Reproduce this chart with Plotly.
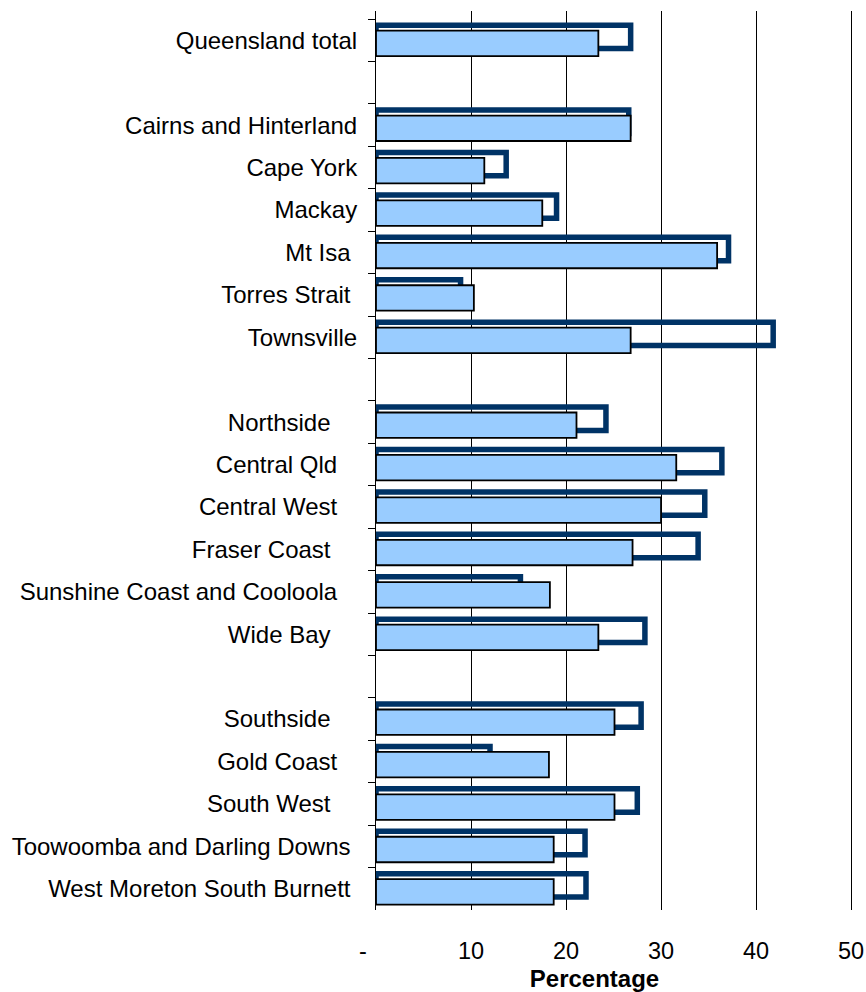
import plotly.graph_objects as go

# Category labels (trailing spaces are part of the original labels); "" marks a gap row
regions = [
    "Queensland total",
    "",
    "Cairns and Hinterland",
    "Cape York",
    "Mackay",
    "Mt Isa ",
    "Torres Strait ",
    "Townsville",
    "",
    "Northside    ",
    "Central Qld   ",
    "Central West   ",
    "Fraser Coast    ",
    "Sunshine Coast and Cooloola   ",
    "Wide Bay    ",
    "",
    "Southside    ",
    "Gold Coast   ",
    "South West    ",
    "Toowoomba and Darling Downs ",
    "West Moreton South Burnett ",
]

# Outline series (navy frame)
series_outline = [26.8, None, 26.6, 13.7, 19.0, 37.1, 8.9, 41.8, None,
                  24.2, 36.4, 34.6, 33.9, 15.2, 28.3, None,
                  27.9, 12.0, 27.5, 22.0, 22.1]
# Filled series (light blue)
series_fill = [23.4, None, 26.8, 11.4, 17.5, 35.9, 10.3, 26.8, None,
               21.1, 31.6, 30.0, 27.0, 18.3, 23.4, None,
               25.1, 18.2, 25.1, 18.7, 18.7]

x_tickvals = [0, 10, 20, 30, 40, 50]
x_ticktext = ["-", "10", "20", "30", "40", "50"]
x_title = "Percentage"

NB = "\u00a0"

# unique category names: gap rows become distinct blank strings,
# trailing spaces kept as non-breaking spaces so they are not collapsed
categories = []
gap_count = 0
for r in regions:
    if r == "":
        gap_count += 1
        categories.append(NB * gap_count)
    else:
        stripped = r.rstrip(" ")
        categories.append(stripped + NB * (len(r) - len(stripped)))

x_labels = [t + NB * 4 if t == "-" else t for t in x_ticktext]

FONT = "Liberation Sans, Arial, sans-serif"

fig = go.Figure()
fig.add_trace(go.Bar(
    orientation="h", y=categories, x=series_outline,
    width=0.55, offset=-0.355,
    marker=dict(color="rgba(0,0,0,0)", line=dict(color="#003366", width=5.5)),
    hoverinfo="x+y",
))
fig.add_trace(go.Bar(
    orientation="h", y=categories, x=series_fill,
    width=0.6, offset=-0.226,
    marker=dict(color="#99CCFF", line=dict(color="#000000", width=1.8)),
    hoverinfo="x+y",
))

fig.update_layout(
    width=866, height=992,
    margin=dict(l=376, r=13, t=11, b=82),
    paper_bgcolor="white", plot_bgcolor="white",
    barmode="overlay", showlegend=False,
    font=dict(family=FONT, size=24, color="black"),
)
fig.update_yaxes(
    type="category", categoryorder="array", categoryarray=categories,
    range=[len(categories) - 0.5, -0.69],
    tickson="boundaries", ticks="outside", ticklen=7, tickcolor="black", tickwidth=1,
    showline=True, linecolor="black", linewidth=1,
    showgrid=False, zeroline=False, automargin=False,
    ticklabelstandoff=13,
    tickfont=dict(family=FONT, size=24, color="black"),
)
fig.update_xaxes(
    range=[0, 50.2], tickmode="array", tickvals=x_tickvals, ticktext=x_labels,
    showgrid=True, gridcolor="black", gridwidth=1,
    zeroline=False, showline=False, ticks="",
    ticklabelstandoff=24,
    tickfont=dict(family=FONT, size=23.5, color="black"),
    title=dict(text="<b>" + x_title + NB * 6 + "</b>",
               font=dict(family=FONT, size=24, color="black"), standoff=11),
    automargin=False,
)

fig.write_html(
    "out.html",
    config={"displayModeBar": False},
    post_script="document.body.style.margin='0';document.body.style.overflow='hidden';",
)
